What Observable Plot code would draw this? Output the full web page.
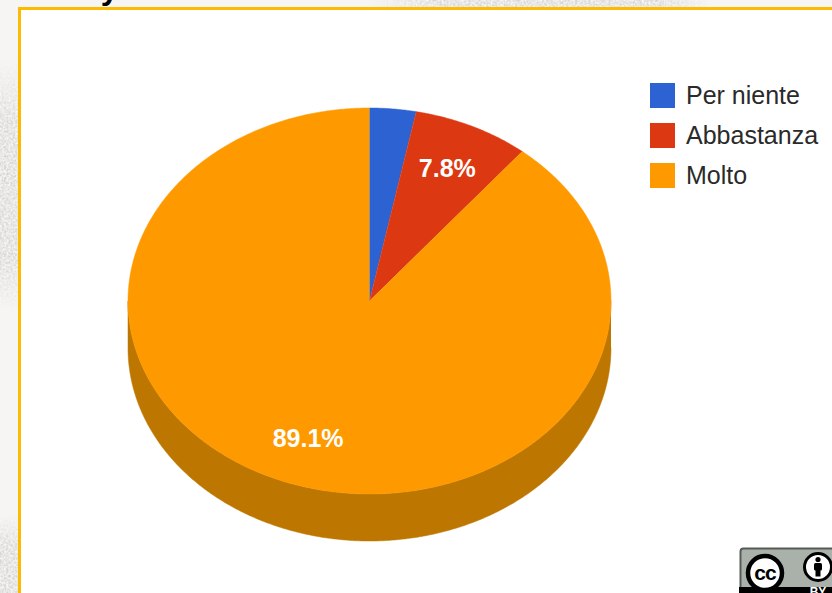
<!DOCTYPE html>
<html lang="it">
<head>
<meta charset="utf-8">
<title>Per niente, abbastanza, molto</title>
<script src="https://cdn.jsdelivr.net/npm/d3@7"></script>
<script src="https://cdn.jsdelivr.net/npm/@observablehq/plot@0.6"></script>
<style>
  html, body { margin: 0; padding: 0; background: #f6f5f4; }
  #page { position: relative; width: 832px; height: 593px; overflow: hidden; font-family: "Liberation Sans", Arial, sans-serif; }
  #texture, #panel, #chart, #legend, #badge, #heading { position: absolute; }
  #texture { left: 0; top: 0; }
  #heading { left: 26px; top: -27px; font: bold 32px/30px "Liberation Sans", Arial, sans-serif; color: #000; white-space: pre; }
  #panel { left: 18px; top: 7px; width: 820px; height: 600px; box-sizing: border-box; background: #fff; border: 3px solid #fdbb00; }
  #chart { left: 0; top: 0; }
  #chart svg { background: transparent; display: block; }
  #legend { left: 650px; top: 83px; font-size: 25px; color: #2a2a2a; }
  #legend .row { display: flex; align-items: center; height: 25px; margin-bottom: 15px; }
  #legend .swatch { width: 25px; height: 25px; margin-right: 11px; }
  #badge { left: 738px; top: 546px; }
</style>
</head>
<body>
<div id="page">
  <svg id="texture" width="832" height="593">
    <defs>
      <filter id="grain" x="0" y="0" width="100%" height="100%">
        <feTurbulence type="fractalNoise" baseFrequency="0.45" numOctaves="2" seed="4"/>
        <feColorMatrix type="matrix" values="0 0 0 0 0.62  0 0 0 0 0.61  0 0 0 0 0.60  1.6 0 0 0 -0.45"/>
      </filter>
      <linearGradient id="fadeV" x1="0" y1="0" x2="0" y2="1">
        <stop offset="0" stop-color="#fff" stop-opacity="0"/>
        <stop offset="0.25" stop-color="#fff"/>
        <stop offset="0.8" stop-color="#fff"/>
        <stop offset="1" stop-color="#fff" stop-opacity="0"/>
      </linearGradient>
      <linearGradient id="fadeH">
        <stop offset="0" stop-color="#fff" stop-opacity="0"/>
        <stop offset="0.2" stop-color="#fff"/>
        <stop offset="0.85" stop-color="#fff"/>
        <stop offset="1" stop-color="#fff" stop-opacity="0"/>
      </linearGradient>
      <mask id="maskLeft"><rect x="0" y="60" width="18" height="250" fill="url(#fadeV)"/></mask>
      <mask id="maskLow">
        <linearGradient id="fadeLow" x1="0" y1="0" x2="0" y2="1">
          <stop offset="0" stop-color="#fff" stop-opacity="0"/>
          <stop offset="0.4" stop-color="#fff"/>
        </linearGradient>
        <rect x="0" y="515" width="18" height="78" fill="url(#fadeLow)"/>
      </mask>
      <mask id="maskTop"><rect x="370" y="0" width="340" height="7" fill="url(#fadeH)"/></mask>
    </defs>
    <rect x="0" y="60" width="18" height="250" filter="url(#grain)" mask="url(#maskLeft)"/>
    <rect x="0" y="515" width="18" height="78" filter="url(#grain)" mask="url(#maskLow)"/>
    <rect x="370" y="0" width="340" height="7" filter="url(#grain)" mask="url(#maskTop)"/>
  </svg>
  <div id="heading">ooe  y oo   r</div>
  <div id="panel"></div>
  <div id="chart"></div>
  <div id="legend"></div>
  <svg id="badge" width="94" height="47">
    <rect x="2.5" y="2.5" width="110" height="60" rx="3" fill="#aab0aa" stroke="#555a55" stroke-width="2"/>
    <rect x="1" y="41" width="112" height="10" fill="#000"/>
    <circle cx="27" cy="27" r="17" fill="#fff" stroke="#000" stroke-width="4.5"/>
    <text x="27" y="34" text-anchor="middle" font-family="Liberation Sans, Arial, sans-serif" font-weight="bold" font-size="21" letter-spacing="-1" fill="#000">cc</text>
    <circle cx="80" cy="21" r="13.5" fill="#fff" stroke="#000" stroke-width="3"/>
    <circle cx="80" cy="13.5" r="2.6" fill="#000"/>
    <rect x="76" y="17" width="8" height="7.5" rx="1.5" fill="#000"/>
    <rect x="77.5" y="23" width="5" height="7.5" fill="#000"/>
    <text x="80" y="50" text-anchor="middle" font-family="Liberation Sans, Arial, sans-serif" font-weight="bold" font-size="12" fill="#fff">BY</text>
  </svg>
</div>
<script>
// Survey answers and their shares, in percent
const categories = ["Per niente", "Abbastanza", "Molto"];
const shares = [3.1, 7.8, 89.1];
const colors = ["#2c62d2", "#dc3912", "#ff9900"];
const wallColor = "#bd7700";

// Tilted disc: ellipse centre and radii in pixels, plus the rim height
const centerX = 369, centerY = 300.5, radiusX = 241.5, radiusY = 193, rimHeight = 47;
const labelRadius = 0.757;
const minLabelShare = 5;

const toRad = Math.PI / 180;
const onRim = (deg, name, drop = 0) => ({
  name,
  x: Math.sin(deg * toRad),
  y: Math.cos(deg * toRad) - drop
});

// Sector outlines, clockwise from twelve o'clock
const total = d3.sum(shares);
const spans = [];
shares.reduce((start, share, i) => {
  const end = start + share / total * 360;
  spans.push({name: categories[i], share, start, end});
  return end;
}, 0);

const slices = spans.flatMap(({name, start, end}) => {
  const arc = d3.range(start, end, 0.5).concat(end).map((deg) => onRim(deg, name));
  return [{name, x: 0, y: 0}, ...arc];
});

// Visible side of the disc: the lower half of the rim, extruded downward
const drop = rimHeight / radiusY;
const wall = [
  ...d3.range(90, 270.5, 0.5).map((deg) => onRim(deg, "wall")),
  ...d3.range(270, 89.5, -0.5).map((deg) => onRim(deg, "wall", drop))
];

const labels = spans
  .filter((d) => d.share >= minLabelShare)
  .map((d) => {
    const mid = (d.start + d.end) / 2;
    return {
      text: `${d.share.toFixed(1)}%`,
      x: labelRadius * Math.sin(mid * toRad),
      y: labelRadius * Math.cos(mid * toRad)
    };
  });

const chart = Plot.plot({
  width: 832,
  height: 593,
  margin: 0,
  x: {domain: [-1, 1], range: [centerX - radiusX, centerX + radiusX], axis: null},
  y: {domain: [-1, 1], range: [centerY + radiusY, centerY - radiusY], axis: null},
  color: {domain: categories, range: colors},
  marks: [
    Plot.line(wall, {x: "x", y: "y", z: "name", fill: wallColor, stroke: wallColor, strokeWidth: 0.5}),
    Plot.line(slices, {x: "x", y: "y", z: "name", fill: "name", stroke: "name", strokeWidth: 0.5}),
    Plot.text(labels, {
      x: "x", y: "y", text: "text",
      fill: "#fff", fontSize: 25, fontWeight: "bold",
      fontFamily: "Liberation Sans, Arial, sans-serif"
    })
  ]
});
document.getElementById("chart").append(chart);

// Legend swatches take their colours from the chart's own scale
const colorScale = chart.scale("color");
const legend = d3.select("#legend");
categories.forEach((name) => {
  const row = legend.append("div").attr("class", "row");
  row.append("div").attr("class", "swatch").style("background", colorScale.apply(name));
  row.append("div").text(name);
});
</script>
</body>
</html>
